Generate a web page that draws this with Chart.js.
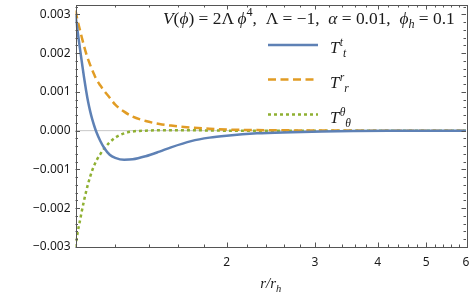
<!DOCTYPE html>
<html>
<head>
<meta charset="utf-8">
<script src="https://cdn.jsdelivr.net/npm/chart.js@4.4.1/dist/chart.umd.min.js"></script>
<style>
  html, body { margin: 0; padding: 0; background: #fff; }
  #wrap { width: 473px; height: 297px; }
</style>
</head>
<body>
<div id="wrap"><canvas id="stressChart" width="473" height="297"></canvas></div>
<script>
// r / r_h samples and the three components of the stress tensor
const rValues = [1, 1.01, 1.02, 1.03, 1.04, 1.05, 1.06, 1.07, 1.08, 1.09, 1.1, 1.12, 1.14, 1.17, 1.2,
  1.25, 1.3, 1.38, 1.47, 1.55, 1.7, 1.85, 2, 2.3, 2.7, 3.1, 3.6, 4.2, 5, 6]
const ttValues = [0.00298, 0.00255, 0.00214, 0.00175, 0.00137, 0.00103, 0.00073, 0.00049, 0.00029, 0.00012,
  -0.00003, -0.00026, -0.00044, -0.00062, -0.00070, -0.00075, -0.00074, -0.00066, -0.00054, -0.00043,
  -0.00027, -0.00018, -0.00013, -0.00007, -0.00004, -0.00002, -0.00001, -0.000005, -0.000003, -0.000001]
const rrValues = [0.0031, 0.00283, 0.00261, 0.00239, 0.00218, 0.00199, 0.00183, 0.00169, 0.00156, 0.00144,
  0.00133, 0.00117, 0.00103, 0.00085, 0.00067, 0.00049, 0.00036, 0.00025, 0.00017, 0.00013,
  0.00008, 0.00005, 0.00003, 0.000015, 0.000007, 0.000003, 0.000001, 0, 0, 0]
const thValues = [-0.0030, -0.00262, -0.00234, -0.00206, -0.00180, -0.00157, -0.00136, -0.00118, -0.00102, -0.00089,
  -0.00078, -0.00061, -0.00047, -0.00030, -0.00018, -0.00007, -0.00002, 0, 0.00001, 0.00001,
  0.00001, 0.000005, 0, 0, 0, 0, 0, 0, 0, 0]

const xTicks = [2, 3, 4, 5, 6]
const yTicks = [-0.003, -0.002, -0.001, 0, 0.001, 0.002, 0.003]

const legendSup = ['t', 'r', 'θ']
const legendSub = ['t', 'r', 'θ']

const serif = '"Liberation Serif", "DejaVu Serif", serif'
const ctx = document.getElementById('stressChart').getContext('2d')

const toPoints = vals => rValues.map((r, i) => ({ x: r, y: vals[i] }))

const datasets = [{
  label: 'T^t_t',
  data: toPoints(ttValues),
  borderColor: '#5E81B5',
  borderWidth: 2.5,
  borderDash: []
}, {
  label: 'T^r_r',
  data: toPoints(rrValues),
  borderColor: '#E19C24',
  borderWidth: 2.5,
  borderDash: [8, 4.5]
}, {
  label: 'T^θ_θ',
  data: toPoints(thValues),
  borderColor: '#8FB032',
  borderWidth: 2.5,
  borderDash: [3, 3]
}]

// draw a run of text pieces, some italic, some raised or lowered
function drawRuns(c, runs, x, y, size) {
  let cx = x
  runs.forEach(p => {
    const s = (p.sup || p.sub) ? size * 0.7 : size
    c.font = (p.it ? 'italic ' : '') + s + 'px ' + serif
    const dy = p.sup ? -size * 0.42 : (p.sub ? size * 0.25 : 0)
    c.fillText(p.t, cx + (p.dx || 0), y + dy)
    cx += c.measureText(p.t).width + (p.dx || 0)
  })
  return cx - x
}

function runsWidth(c, runs, size) {
  let w = 0
  runs.forEach(p => {
    const s = (p.sup || p.sub) ? size * 0.7 : size
    c.font = (p.it ? 'italic ' : '') + s + 'px ' + serif
    w += c.measureText(p.t).width + (p.dx || 0)
  })
  return w
}

const framePlugin = {
  id: 'frame',
  beforeDatasetsDraw(chart) {
    const c = chart.ctx
    const { left, right } = chart.chartArea
    const y0 = chart.scales.y.getPixelForValue(0)
    c.save()
    c.strokeStyle = '#c8c8c8'
    c.lineWidth = 1
    c.beginPath()
    c.moveTo(left, y0)
    c.lineTo(right, y0)
    c.stroke()
    c.restore()
  },
  afterDatasetsDraw(chart) {
    const c = chart.ctx
    const { left, right, top, bottom } = chart.chartArea
    const xs = chart.scales.x
    const ys = chart.scales.y
    c.save()
    c.strokeStyle = '#555'
    c.lineWidth = 1
    c.beginPath()
    // x ticks (major and minor), bottom and top
    for (let k = 6; k < 30; k++) {
      const v = k / 5
      const len = (k % 5 === 0) ? 4.5 : 2.5
      const px = Math.round(xs.getPixelForValue(v)) + 0.5
      c.moveTo(px, bottom); c.lineTo(px, bottom - len)
      c.moveTo(px, top); c.lineTo(px, top + len)
    }
    // y ticks, left and right
    for (let k = -15; k <= 16; k++) {
      const v = k * 0.0002
      const len = (k % 5 === 0) ? 4.5 : 2.5
      const py = Math.round(ys.getPixelForValue(v)) + 0.5
      c.moveTo(left, py); c.lineTo(left + len, py)
      c.moveTo(right, py); c.lineTo(right - len, py)
    }
    c.stroke()
    c.strokeRect(Math.round(left) + 0.5, Math.round(top) + 0.5, Math.round(right - left), Math.round(bottom - top))
    c.restore()
  },
  afterDraw(chart) {
    const c = chart.ctx
    c.save()
    c.fillStyle = '#1a1a1a'
    c.textBaseline = 'alphabetic'

    // parameter annotation
    const note = [
      { t: 'V', it: true }, { t: '(' }, { t: 'ϕ', it: true }, { t: ') = 2Λ\u2009' }, { t: 'ϕ', it: true },
      { t: '4', sup: true }, { t: ',  Λ = −1,  ' }, { t: 'α', it: true }, { t: ' = 0.01,  ' },
      { t: 'ϕ', it: true }, { t: 'h', it: true, sub: true }, { t: ' = 0.1' }
    ]
    const base = 16
    const size = base * 292 / runsWidth(c, note, base)
    drawRuns(c, note, 163, 23.5, size)

    // legend
    const rows = [45, 79.5, 114.5]
    chart.data.datasets.forEach((ds, i) => {
      c.save()
      c.strokeStyle = ds.borderColor
      c.lineWidth = ds.borderWidth
      c.setLineDash(ds.borderDash)
      c.beginPath()
      c.moveTo(268, rows[i])
      c.lineTo(318, rows[i])
      c.stroke()
      c.restore()
      drawRuns(c, [
        { t: 'T', it: true },
        { t: legendSup[i], it: true, sup: true, dx: 0.5 },
        { t: legendSub[i], it: true, sub: true }
      ], 330, rows[i] + 8, 16.5)
    })

    // axis label r / r_h
    const lab = [{ t: 'r/r', it: true }, { t: 'h', it: true, sub: true }]
    const lw = runsWidth(c, lab, 15)
    const cxm = (chart.chartArea.left + chart.chartArea.right) / 2
    drawRuns(c, lab, cxm - lw / 2, 288, 15)
    c.restore()
  }
}

const chart = new Chart(ctx, {
  type: 'line',
  data: { datasets },
  plugins: [framePlugin],
  options: {
    responsive: false,
    animation: false,
    layout: { padding: { top: 5, right: 7, left: 0, bottom: 0 } },
    elements: {
      point: { radius: 0 },
      line: { cubicInterpolationMode: 'monotone', borderCapStyle: 'butt', fill: false }
    },
    plugins: {
      legend: { display: false },
      tooltip: { enabled: false }
    },
    scales: {
      x: {
        type: 'logarithmic',
        min: 1,
        max: 6,
        afterBuildTicks: s => { s.ticks = xTicks.map(v => ({ value: v })) },
        afterFit: s => { s.height = 50; s.paddingLeft = 0; s.paddingRight = 0 },
        grid: { display: false, drawTicks: false },
        border: { display: false },
        ticks: {
          padding: 8,
          color: '#1a1a1a',
          font: { family: '"Noto Sans"', size: 12 },
          maxRotation: 0,
          callback: v => String(v)
        }
      },
      y: {
        min: -0.003,
        max: 0.00324,
        afterBuildTicks: s => { s.ticks = yTicks.map(v => ({ value: v })) },
        afterFit: s => { s.width = 75.5; s.paddingTop = 0; s.paddingBottom = 0 },
        grid: { display: false, drawTicks: false },
        border: { display: false },
        ticks: {
          padding: 5,
          color: '#1a1a1a',
          font: { family: '"Noto Sans"', size: 12 },
          callback: v => (v < 0 ? '−' : '') + Math.abs(v).toFixed(3)
        }
      }
    }
  }
})
</script>
</body>
</html>
